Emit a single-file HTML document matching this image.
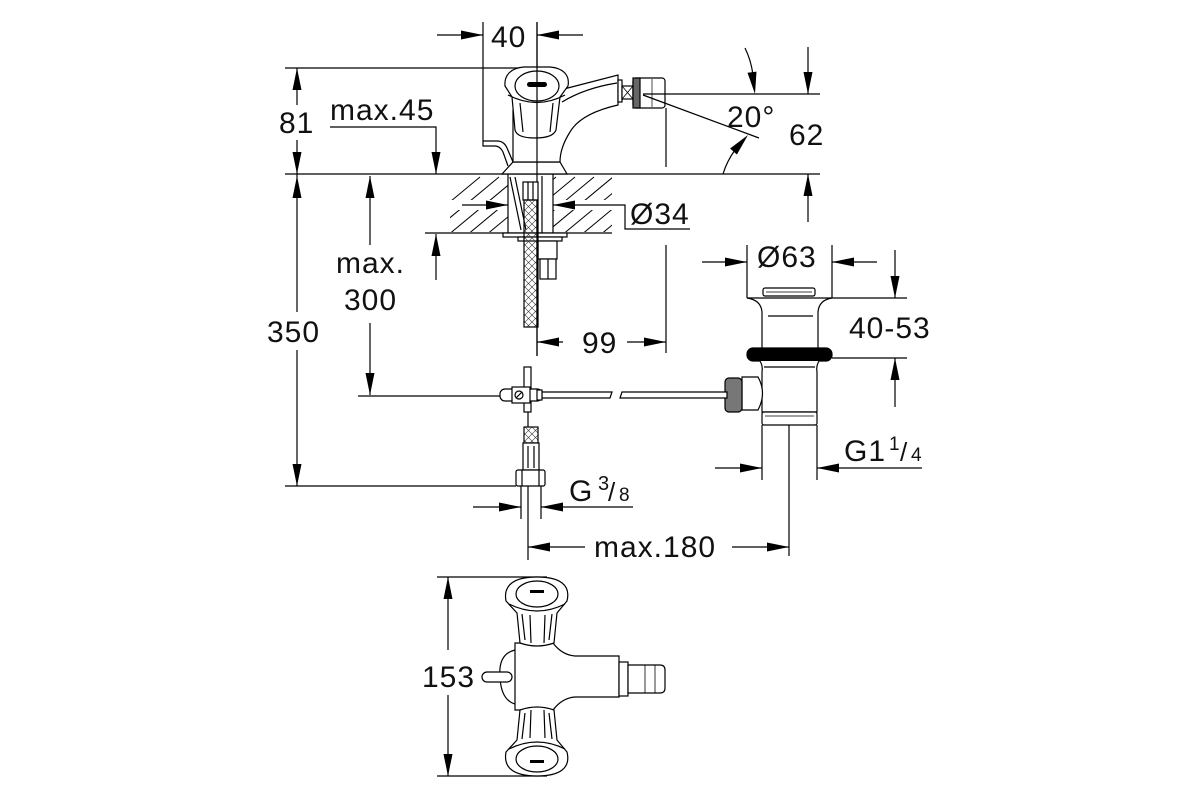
<!DOCTYPE html>
<html><head><meta charset="utf-8"><style>
html,body{margin:0;padding:0;background:#fff;}
svg{display:block;}
text{font-family:"Liberation Sans",Arial,sans-serif;fill:#111;letter-spacing:1px;}
</style></head><body>
<svg width="1200" height="800" viewBox="0 0 1200 800" xmlns="http://www.w3.org/2000/svg">
<defs>
<pattern id="xh" width="7" height="7" patternUnits="userSpaceOnUse"><path d="M0,0 L7,7 M7,0 L0,7" stroke="#333" stroke-width="0.6"/></pattern>
<clipPath id="hc"><rect x="450" y="176" width="58" height="24"/><rect x="553" y="176" width="59" height="24"/><rect x="450" y="210" width="58" height="22"/><rect x="553" y="210" width="59" height="22"/></clipPath>
</defs>
<rect width="1200" height="800" fill="#fff"/>

<g stroke="#000" stroke-width="1.2" fill="none">
<!-- 40 dim -->
<line x1="437" y1="35" x2="483" y2="35"/>
<line x1="537" y1="35" x2="583" y2="35"/>
<line x1="537" y1="22" x2="537" y2="356"/>
<path d="M483,22 V146 H495 Q500,146 503,152 L508,166"/>
<path d="M483,141 H497 Q504,141 507,148 L513,162"/>
<!-- top line & 81/350 -->
<line x1="285" y1="68" x2="537" y2="68"/>
<line x1="297" y1="68" x2="297" y2="105"/>
<line x1="297" y1="140" x2="297" y2="312"/>
<line x1="297" y1="350" x2="297" y2="486"/>
<line x1="285" y1="174" x2="820" y2="174"/>
<line x1="285" y1="486" x2="516" y2="486"/>
<!-- max.45 -->
<polyline points="330,127 436,127 436,174"/>
<line x1="436" y1="234" x2="436" y2="280"/>
<!-- max.300 -->
<line x1="370" y1="176" x2="370" y2="245"/>
<line x1="370" y1="323" x2="370" y2="395"/>
<line x1="358" y1="396" x2="500" y2="396"/>
<!-- counter -->
<line x1="425" y1="233" x2="612" y2="233"/>
<g clip-path="url(#hc)" stroke-width="1">
<path d="M380,260 l100,-83 M399,260 l100,-83 M418,260 l100,-83 M437,260 l100,-83 M456,260 l100,-83 M475,260 l100,-83 M494,260 l100,-83 M513,260 l100,-83 M532,260 l100,-83 M551,260 l100,-83 M570,260 l100,-83 M589,260 l100,-83"/>
</g>
<!-- Ø34 -->
<line x1="462" y1="205" x2="508" y2="205"/>
<polyline points="553,205 625,205 625,229 690,229"/>
<!-- stem in hole -->
<line x1="508" y1="174" x2="508" y2="233"/>
<line x1="553" y1="174" x2="553" y2="233"/>
<line x1="542" y1="176" x2="542" y2="233"/>
<line x1="510" y1="177" x2="521" y2="230"/>
<line x1="515" y1="177" x2="526" y2="230"/>
<rect x="523" y="182" width="15" height="18" fill="#fff"/>
<line x1="528" y1="182" x2="528" y2="200"/><line x1="533" y1="182" x2="533" y2="200"/>
<rect x="503" y="233" width="64" height="4" fill="#fff"/>
<rect x="518" y="237" width="44" height="4" fill="#fff"/>
<rect x="538" y="241" width="19" height="18" fill="#fff"/>
<rect x="540" y="259" width="16" height="20" fill="#fff"/>
<line x1="548" y1="259" x2="548" y2="279"/>
<rect x="524" y="200" width="14" height="127" fill="url(#xh)"/>
<line x1="537" y1="200" x2="537" y2="356"/>
<!-- faucet body -->
<path d="M502,174 L513,162 L560,162 L567,174 Z" fill="#fff"/>
<path d="M513,162 L513,110 L560,90 L618,75 L618,105 C596,110 578,118 570,132 C563,143 560,152 560,162 Z" fill="#fff"/>
<path d="M562,102 Q585,88 617,83"/>
<path d="M505,86 C504,75 511,68 524,67 L550,67 C563,68 570,75 568,86 L560,97 L556,130 Q553,138 535,138 Q517,138 515,130 L512,97 Z" fill="#fff"/>
<ellipse cx="537" cy="86" rx="22" ry="15" fill="#fff"/>
<path d="M508,95 Q537,110 565,95"/>
<line x1="520" y1="103" x2="523" y2="132"/><line x1="553" y1="103" x2="550" y2="132"/>
<line x1="537" y1="22" x2="537" y2="174"/>
<rect x="618" y="80" width="4" height="22" fill="#fff"/>
<rect x="622" y="86" width="11" height="13" fill="#fff"/>
<path d="M622,86 L633,99 M633,86 L622,99" stroke-width="0.8"/>
<rect x="633" y="78" width="32" height="30" rx="3" fill="#fff"/>
<rect x="633" y="78" width="7" height="30" fill="#666"/>
<line x1="652" y1="79" x2="652" y2="107" stroke-width="0.7"/>
<!-- right dims -->
<line x1="643" y1="94" x2="820" y2="94"/>
<line x1="643" y1="95" x2="759" y2="138"/>
<line x1="666" y1="108" x2="666" y2="167"/>
<line x1="666" y1="245" x2="666" y2="353"/>
<path d="M745,48 Q751,60 753,75"/>
<path d="M723,174 Q727,161 735,150"/>
<line x1="808" y1="47" x2="808" y2="94"/>
<line x1="808" y1="174" x2="808" y2="222"/>
<!-- 99 -->
<line x1="537" y1="342" x2="563" y2="342"/>
<line x1="627" y1="342" x2="666" y2="342"/>
<!-- drain -->
<line x1="702" y1="262" x2="747" y2="262"/>
<line x1="832" y1="262" x2="877" y2="262"/>
<line x1="747" y1="245" x2="747" y2="298"/>
<line x1="832" y1="245" x2="832" y2="298"/>
<rect x="763" y="288" width="52" height="8" rx="2" fill="#fff"/>
<line x1="766" y1="292" x2="812" y2="292" stroke-width="0.8"/>
<line x1="747" y1="298" x2="907" y2="298"/>
<path d="M747,298 Q761,300 762,312 V348"/>
<path d="M832,298 Q819,300 818,312 V348"/>
<line x1="768" y1="316" x2="813" y2="316"/>
<rect x="747" y="348" width="85" height="13" rx="6" fill="#000"/>
<line x1="832" y1="358" x2="907" y2="358"/>
<path d="M760,361 Q763,366 762,372 V412 H817 V372 Q816,366 819,361" fill="#fff"/>
<line x1="764" y1="367" x2="815" y2="367"/>
<path d="M742,377 H758 Q767,393 758,410 H742 Z" fill="#fff"/>
<rect x="725" y="378" width="17" height="34" rx="4" fill="#777"/>
<rect x="762" y="412" width="55" height="13" rx="2" fill="#fff"/>
<line x1="765" y1="416" x2="814" y2="416" stroke-width="0.8"/>
<line x1="762" y1="425" x2="762" y2="480"/>
<line x1="817" y1="425" x2="817" y2="480"/>
<line x1="789" y1="425" x2="789" y2="556"/>
<line x1="715" y1="468" x2="762" y2="468"/>
<line x1="817" y1="468" x2="922" y2="468"/>
<line x1="895" y1="250" x2="895" y2="298"/>
<line x1="895" y1="358" x2="895" y2="407"/>
<!-- rod -->
<path d="M542,392 H612 L610,398 H542" fill="#fff"/>
<path d="M622,392 H727 V398 H620 Z" fill="#fff"/>
<!-- valve -->
<rect x="524" y="367" width="7" height="45" fill="#fff"/>
<rect x="500" y="389" width="42" height="12" rx="5" fill="#fff"/>
<rect x="512" y="387" width="18" height="16" fill="#fff"/>
<circle cx="519" cy="395" r="4"/>
<line x1="516" y1="398" x2="522" y2="392"/>
<rect x="537" y="390" width="5" height="10" fill="#fff"/>
<!-- lower connection -->
<line x1="528" y1="412" x2="528" y2="427"/>
<rect x="524" y="427" width="14" height="16" fill="url(#xh)"/>
<rect x="523" y="443" width="16" height="27" fill="#fff"/>
<line x1="528" y1="446" x2="528" y2="468"/><line x1="534" y1="446" x2="534" y2="468"/>
<rect x="516" y="470" width="29" height="16" rx="2" fill="#fff"/>
<line x1="522" y1="470" x2="522" y2="486"/><line x1="539" y1="470" x2="539" y2="486"/>
<line x1="521" y1="486" x2="521" y2="519"/>
<line x1="541" y1="486" x2="541" y2="519"/>
<line x1="528" y1="486" x2="528" y2="560"/>
<line x1="473" y1="507" x2="521" y2="507"/>
<line x1="541" y1="507" x2="633" y2="507"/>
<line x1="528" y1="547" x2="585" y2="547"/>
<line x1="732" y1="547" x2="789" y2="547"/>
<!-- bottom view -->
<line x1="437" y1="577" x2="547" y2="577"/>
<line x1="437" y1="776" x2="547" y2="776"/>
<line x1="448" y1="577" x2="448" y2="650"/>
<line x1="448" y1="695" x2="448" y2="776"/>
<path d="M515,650 Q498,654 500,677 Q501,700 515,704" fill="#fff"/>
<path d="M515,643 L553,643 Q562,655 575,656 H619 V697 H575 Q562,698 553,710 H515 Z" fill="#fff"/>
<rect x="482" y="672" width="30" height="10" rx="5" fill="#fff"/>
<rect x="619" y="662" width="9" height="34" fill="#fff"/>
<path d="M628,665 H660 Q665,665 665,670 V688 Q665,693 660,693 H628 Z" fill="#fff"/>
<line x1="645" y1="665" x2="645" y2="693" stroke-width="0.8"/>
<line x1="655" y1="665" x2="655" y2="693" stroke-width="0.8"/>
<g id="hnd">
<path d="M506,601 C503,585 514,577 537,577 C560,577 571,585 567,601 L557,613 L554,643 Q537,649 520,643 L517,613 Z" fill="#fff"/>
<ellipse cx="537" cy="594" rx="21" ry="13" fill="#fff"/>
<path d="M509,604 Q537,618 565,604"/>
<line x1="522" y1="614" x2="525" y2="640"/><line x1="530" y1="615" x2="531" y2="643"/>
<line x1="545" y1="615" x2="544" y2="643"/><line x1="552" y1="614" x2="549" y2="640"/>
<rect x="530" y="590" width="14" height="3" fill="#000" stroke="none"/>
</g>
<use href="#hnd" transform="matrix(1,0,0,-1,0,1353)"/>
</g>
<rect x="527" y="82" width="20" height="5" rx="2.5" fill="#000"/>

<!-- arrows -->
<g fill="#000">
<polygon points="483,35 461,30.5 461,39.5"/>
<polygon points="537,35 559,30.5 559,39.5"/>
<polygon points="297,68 292.5,90 301.5,90"/>
<polygon points="297,174 292.5,152 301.5,152"/>
<polygon points="297,176 292.5,198 301.5,198"/>
<polygon points="297,486 292.5,464 301.5,464"/>
<polygon points="436,174 431.5,152 440.5,152"/>
<polygon points="436,234 431.5,256 440.5,256"/>
<polygon points="370,176 365.5,198 374.5,198"/>
<polygon points="370,395 365.5,373 374.5,373"/>
<polygon points="508,205 486,200.5 486,209.5"/>
<polygon points="553,205 575,200.5 575,209.5"/>
<polygon points="755,94 756.5,71.6 747.5,72.8"/>
<polygon points="748,135 736.9,154.5 730.1,148.5"/>
<polygon points="808,94 803.5,72 812.5,72"/>
<polygon points="808,174 803.5,196 812.5,196"/>
<polygon points="537,342 559,337.5 559,346.5"/>
<polygon points="666,342 644,337.5 644,346.5"/>
<polygon points="747,262 725,257.5 725,266.5"/>
<polygon points="832,262 854,257.5 854,266.5"/>
<polygon points="895,298 890.5,276 899.5,276"/>
<polygon points="895,358 890.5,380 899.5,380"/>
<polygon points="762,468 740,463.5 740,472.5"/>
<polygon points="817,468 839,463.5 839,472.5"/>
<polygon points="521,507 499,502.5 499,511.5"/>
<polygon points="541,507 563,502.5 563,511.5"/>
<polygon points="528,547 550,542.5 550,551.5"/>
<polygon points="789,547 767,542.5 767,551.5"/>
<polygon points="448,577 443.5,599 452.5,599"/>
<polygon points="448,776 443.5,754 452.5,754"/>
</g>

<!-- labels -->
<g font-size="30">
<text x="491" y="47">40</text>
<text x="279" y="133">81</text>
<text x="330" y="120">max.45</text>
<text x="336" y="273">max.</text>
<text x="344" y="310">300</text>
<text x="267" y="342">350</text>
<text x="630" y="224">Ø34</text>
<text x="727" y="127">20°</text>
<text x="789" y="145">62</text>
<text x="582" y="353">99</text>
<text x="757" y="267">Ø63</text>
<text x="849" y="338">40-53</text>
<text x="594" y="557">max.180</text>
<text x="422" y="687">153</text>
<text x="569" y="501">G</text>
<text x="844" y="461">G1</text>
</g>
<text x="598" y="490" font-size="20">3</text>
<text x="608" y="501" font-size="26">/</text>
<text x="619" y="501" font-size="19">8</text>
<text x="889" y="450" font-size="19">1</text>
<text x="900" y="461" font-size="26">/</text>
<text x="911" y="461" font-size="19">4</text>
</svg>
</body></html>
